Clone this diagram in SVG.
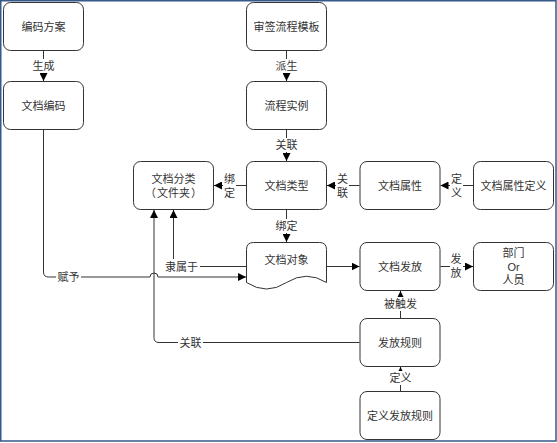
<svg xmlns="http://www.w3.org/2000/svg" width="557" height="443" viewBox="0 0 557 443">
<style>
.node{fill:#ffffff;stroke:#333333;stroke-width:1}
.t{font-family:"Liberation Sans","Noto Sans CJK SC",sans-serif;font-size:11px;fill:#333333;text-anchor:middle;dominant-baseline:central}
.e{fill:none;stroke:#333333;stroke-width:1}
.lb{fill:#ffffff;stroke:none}
</style>
<defs>
<marker id="arr" markerUnits="userSpaceOnUse" markerWidth="8" markerHeight="8" refX="7" refY="3.5" orient="auto" viewBox="0 0 7 7">
<path d="M0,0 L7,3.5 L0,7 Z" fill="#000000"/>
</marker>
</defs>
<rect x="0" y="0" width="557" height="443" fill="#ffffff"/>
<rect x="0.75" y="0.75" width="555.25" height="440.25" fill="none" stroke="#34598a" stroke-width="1.5"/>

<g id="connectors">
<path class="e" d="M43.5 51 V81" marker-end="url(#arr)"/>
<path class="e" d="M286.5 51 V81" marker-end="url(#arr)"/>
<path class="e" d="M286.5 130 V161" marker-end="url(#arr)"/>
<path class="e" d="M246 185.5 H214" marker-end="url(#arr)"/>
<path class="e" d="M359.5 185.5 H327" marker-end="url(#arr)"/>
<path class="e" d="M473 185.5 H440.5" marker-end="url(#arr)"/>
<path class="e" d="M286.5 210 V242" marker-end="url(#arr)"/>
<path class="e" d="M327 266.5 H359.5" marker-end="url(#arr)"/>
<path class="e" d="M440.5 266.5 H473" marker-end="url(#arr)"/>
<path class="e" d="M400.5 318 V291" marker-end="url(#arr)"/>
<path class="e" d="M400.5 391 V367" marker-end="url(#arr)"/>
<path class="e" d="M43.5 130 V272 Q43.5 277 48.5 277 H150 A4 4 0 0 1 158 277 H246" marker-end="url(#arr)"/>
<path class="e" d="M246 266.5 H178.5 Q173.5 266.5 173.5 261.5 V210" marker-end="url(#arr)"/>
<path class="e" d="M359.5 342.5 H159 Q154 342.5 154 337.5 V210" marker-end="url(#arr)"/>

<rect class="lb" x="31" y="59" width="25" height="14"/>
<text class="t" x="43.5" y="66">生成</text>
<rect class="lb" x="274" y="59" width="25" height="14"/>
<text class="t" x="286.5" y="66">派生</text>
<rect class="lb" x="274" y="138" width="25" height="14"/>
<text class="t" x="286.5" y="145">关联</text>
<rect class="lb" x="274" y="219" width="25" height="14"/>
<text class="t" x="286.5" y="226">绑定</text>
<rect class="lb" x="223" y="172" width="13" height="27"/>
<text class="t" x="229.5" y="178.5">绑</text>
<text class="t" x="229.5" y="192.5">定</text>
<rect class="lb" x="336" y="172" width="13" height="27"/>
<text class="t" x="342.5" y="178.5">关</text>
<text class="t" x="342.5" y="192.5">联</text>
<rect class="lb" x="450" y="172" width="13" height="27"/>
<text class="t" x="456.5" y="178.5">定</text>
<text class="t" x="456.5" y="192.5">义</text>
<rect class="lb" x="450" y="252" width="13" height="27"/>
<text class="t" x="456" y="258.5">发</text>
<text class="t" x="456" y="272.5">放</text>
<rect class="lb" x="382" y="297" width="37" height="14"/>
<text class="t" x="400.5" y="304">被触发</text>
<rect class="lb" x="388" y="371" width="25" height="14"/>
<text class="t" x="400.5" y="378">定义</text>
<rect class="lb" x="56" y="270" width="25" height="14"/>
<text class="t" x="68.5" y="277">赋予</text>
<rect class="lb" x="163" y="259" width="37" height="14"/>
<text class="t" x="181.5" y="266.5">隶属于</text>
<rect class="lb" x="178" y="335" width="25" height="14"/>
<text class="t" x="190.5" y="342.5">关联</text>
</g>

<g id="n-bianmafangan">
<rect class="node" x="3.5" y="2.5" width="80" height="48" rx="7"/>
<text class="t" x="43.5" y="26.5">编码方案</text>
</g>
<g id="n-wendangbianma">
<rect class="node" x="3.5" y="81.5" width="80" height="48" rx="7"/>
<text class="t" x="43.5" y="105.5">文档编码</text>
</g>
<g id="n-shenqianliucheng">
<rect class="node" x="246.5" y="2.5" width="80" height="48" rx="7"/>
<text class="t" x="286.5" y="26.5">审签流程模板</text>
</g>
<g id="n-liuchengshili">
<rect class="node" x="246.5" y="81.5" width="80" height="48" rx="7"/>
<text class="t" x="286.5" y="105.5">流程实例</text>
</g>
<g id="n-wendangfenlei">
<rect class="node" x="133.5" y="161.5" width="80" height="48" rx="7"/>
<text class="t" x="173.5" y="178.5">文档分类</text>
<text class="t" y="192.5"><tspan x="150.5">（</tspan><tspan x="173.5">文件夹</tspan><tspan x="196.5">）</tspan></text>
</g>
<g id="n-wendangleixing">
<rect class="node" x="246.5" y="161.5" width="80" height="48" rx="7"/>
<text class="t" x="286.5" y="185.5">文档类型</text>
</g>
<g id="n-wendangshuxing">
<rect class="node" x="360" y="161.5" width="80" height="48" rx="7"/>
<text class="t" x="400" y="185.5">文档属性</text>
</g>
<g id="n-shuxingdingyi">
<rect class="node" x="473.5" y="161.5" width="80" height="48" rx="7"/>
<text class="t" x="513.5" y="185.5">文档属性定义</text>
</g>
<g id="n-wendangduixiang">
<path class="node" d="M253.5 242.5 H319.5 Q326.5 242.5 326.5 249.5 V282.5 Q306.5 270 286.5 282.5 Q266.5 295.5 246.5 282.5 V249.5 Q246.5 242.5 253.5 242.5 Z"/>
<text class="t" x="286.5" y="260">文档对象</text>
</g>
<g id="n-wendangfafang">
<rect class="node" x="360" y="242.5" width="80" height="48" rx="7"/>
<text class="t" x="400" y="266.5">文档发放</text>
</g>
<g id="n-bumen">
<rect class="node" x="473.5" y="242.5" width="80" height="48" rx="7"/>
<text class="t" x="513.5" y="253">部门</text>
<text class="t" x="513.5" y="266.5">Or</text>
<text class="t" x="513.5" y="280">人员</text>
</g>
<g id="n-fafangguize">
<rect class="node" x="360" y="318.5" width="80" height="48" rx="7"/>
<text class="t" x="400" y="342.5">发放规则</text>
</g>
<g id="n-dingyifafang">
<rect class="node" x="360" y="391.5" width="80" height="48" rx="7"/>
<text class="t" x="400" y="415.5">定义发放规则</text>
</g>
</svg>
